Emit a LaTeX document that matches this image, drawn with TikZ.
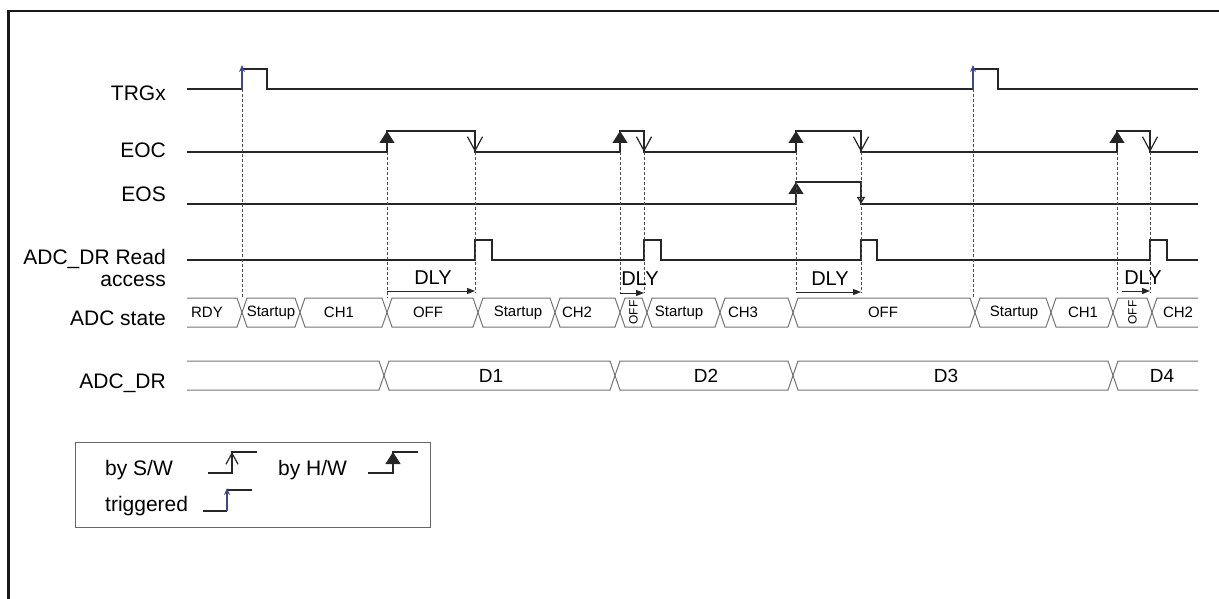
\documentclass[tikz,border=0pt]{standalone}
\usepackage{fontspec}
\setmainfont{Liberation Sans}
\usetikzlibrary{arrows.meta}
\definecolor{trigblue}{RGB}{60,72,150}
\tikzset{
  wave/.style={line width=1.2pt, black!85},
  bus/.style={line width=1pt, black!55},
  guide/.style={densely dashed, line width=0.7pt, black!70},
  hw/.style={wave, -{Triangle[length=12pt, width=15pt]}},
  sw/.style={wave, -{Straight Barb[length=14pt, width=15pt]}},
  swsmall/.style={wave, -{Triangle[open, length=7pt, width=8pt]}},
  trig/.style={line width=1.4pt, trigblue, -{Stealth[length=7pt, width=6pt]}},
  dly/.style={line width=1pt, black!85, -{Triangle[length=8pt, width=6pt]}},
  sig/.style={inner sep=0pt, anchor=base east, font=\fontsize{21}{24}\selectfont},
}

\begin{document}
\begin{tikzpicture}[x=1pt, y=-1pt,
    statelbl/.style={inner sep=0pt, font=\fontsize{15}{17}\selectfont},
    datalbl/.style={inner sep=0pt, font=\fontsize{19}{21}\selectfont},
    dlylbl/.style={inner sep=0pt, anchor=base, font=\fontsize{20}{22}\selectfont},
    leg/.style={inner sep=0pt, anchor=base west, font=\fontsize{21}{24}\selectfont}]
  \useasboundingbox (0,0) rectangle (1219,599);
  % frame
  \draw[line width=2.5pt, black!90] (8.5,599) -- (8.5,11) -- (1219,11);

  % signal names
  \node[sig] (trgx) at (166,101) {TRGx};
  \node[sig] (eoc) at (166,158) {EOC};
  \node[sig] (eos) at (166,201) {EOS};
  \node[sig] (rdacc) at (166,264) {ADC\_DR Read};
  \node[sig] (acc) at (166,286) {access};
  \node[sig] (adcst) at (166,325) {ADC state};
  \node[sig] (adcdr) at (166,388) {ADC\_DR};

  % TRGx
  \draw[wave] (187,89) -- (242,89) (242,69) -- (267,69) -- (267,89) -- (973,89)
    (973,69) -- (998,69) -- (998,89) -- (1198,89);
  \draw[trig] (242,89) -- (242,65);
  \draw[trig] (973,89) -- (973,65);

  % EOC
  \draw[wave] (187,152) -| (387,131) -| (475,152) -| (620,131) -| (644,152)
    -| (796,131) -| (861,152) -| (1117,131) -| (1150,152) -- (1198,152);
  \foreach \xe in {387,620,796,1117}
    \draw[hw] (\xe,152) -- (\xe,131);
  \foreach \xe in {475,644,861,1150}
    \draw[sw] (\xe,131) -- (\xe,152);

  % EOS
  \draw[wave] (187,204) -| (796,182) -| (861,204) -- (1198,204);
  \draw[hw] (796,204) -- (796,182);
  \draw[swsmall] (861,182) -- (861,204);

  % read access
  \draw[wave] (187,260) -| (475,240) -| (492,260) -| (644,240) -| (661,260)
    -| (861,240) -| (877,260) -| (1150,240) -| (1167,260) -- (1198,260);

  % guides
  \foreach \xe/\ya/\yb in {242/89/298, 387/152/298, 475/152/293, 620/152/293,
      644/152/293, 796/152/293, 861/152/293, 973/89/298, 1117/152/293, 1150/152/293}
    \draw[guide] (\xe,\ya) -- (\xe,\yb);

  % DLY
  \draw[dly] (387,291) -- (475,291);
  \draw[dly] (620,293) -- (644,293);
  \draw[dly] (796,292) -- (861,292);
  \draw[dly] (1122,291) -- (1150,291);
  \node[dlylbl] (dly1) at (433,284) {DLY};
  \node[dlylbl] (dly2) at (640,285) {DLY};
  \node[dlylbl] (dly3) at (830,285) {DLY};
  \node[dlylbl] (dly4) at (1143,284) {DLY};

  % ADC state
  \draw[bus] (187,298) -- (237,298) -- (242,312.5) -- (237,327) -- (187,327);
  \node[statelbl] (rdy) at (207,312.5) {RDY};
  \foreach \xl/\xr/\xm/\txt [count=\i] in {242/300/271/Startup, 300/387/339/CH1,
      387/478/428/OFF, 478/555/518/Startup, 555/620/577/CH2, 647/720/679/Startup,
      720/793/743/CH3, 793/975/883/OFF, 975/1051/1014/Startup, 1051/1113/1083/CH1}
  {
    \draw[bus] (\xl,312.5) -- (\xl+5,298) -- (\xr-5,298) -- (\xr,312.5)
      -- (\xr-5,327) -- (\xl+5,327) -- cycle;
    \node[statelbl] (st\i) at (\xm,312.5) {\txt};
  }
  \foreach \xl/\xr/\nm in {620/647/offa, 1113/1152/offb}
  {
    \draw[bus] (\xl,312.5) -- (\xl+5,298) -- (\xr-5,298) -- (\xr,312.5)
      -- (\xr-5,327) -- (\xl+5,327) -- cycle;
    \node[statelbl, rotate=90, font=\fontsize{12}{14}\selectfont] (\nm)
      at ({(\xl+\xr)/2},312.5) {OFF};
  }
  \draw[bus] (1198,298) -- (1157,298) -- (1152,312.5) -- (1157,327) -- (1198,327);
  \node[statelbl] (ch2b) at (1178,312.5) {CH2};

  % ADC_DR
  \draw[bus] (187,361) -- (379,361) -- (384,375.5) -- (379,390) -- (187,390);
  \foreach \xl/\xr/\xm/\txt in {384/615/491/D1, 615/793/706/D2, 793/1113/946/D3}
  {
    \draw[bus] (\xl,375.5) -- (\xl+5,361) -- (\xr-5,361) -- (\xr,375.5)
      -- (\xr-5,390) -- (\xl+5,390) -- cycle;
    \node[datalbl] (\txt) at (\xm,375.5) {\txt};
  }
  \draw[bus] (1198,361) -- (1118,361) -- (1113,375.5) -- (1118,390) -- (1198,390);
  \node[datalbl] (D4) at (1162,375.5) {D4};

  % legend
  \draw[line width=1pt, black!60] (75,442) rectangle (430,527);
  \node[leg] (lsw) at (105,475) {by S/W};
  \node[leg] (lhw) at (278,475) {by H/W};
  \node[leg] (ltrg) at (105,511) {triggered};
  \draw[wave] (208,473) -| (232,452) -- (257,452);
  \draw[wave, -{Straight Barb[length=11pt, width=12pt]}] (232,473) -- (232,452);
  \draw[wave] (368,473) -| (393,452) -- (418,452);
  \draw[hw] (393,473) -- (393,452);
  \draw[wave] (203,511) -- (227,511) (227,490) -- (252,490);
  \draw[trig] (227,511) -- (227,488);
\end{tikzpicture}
\end{document}
